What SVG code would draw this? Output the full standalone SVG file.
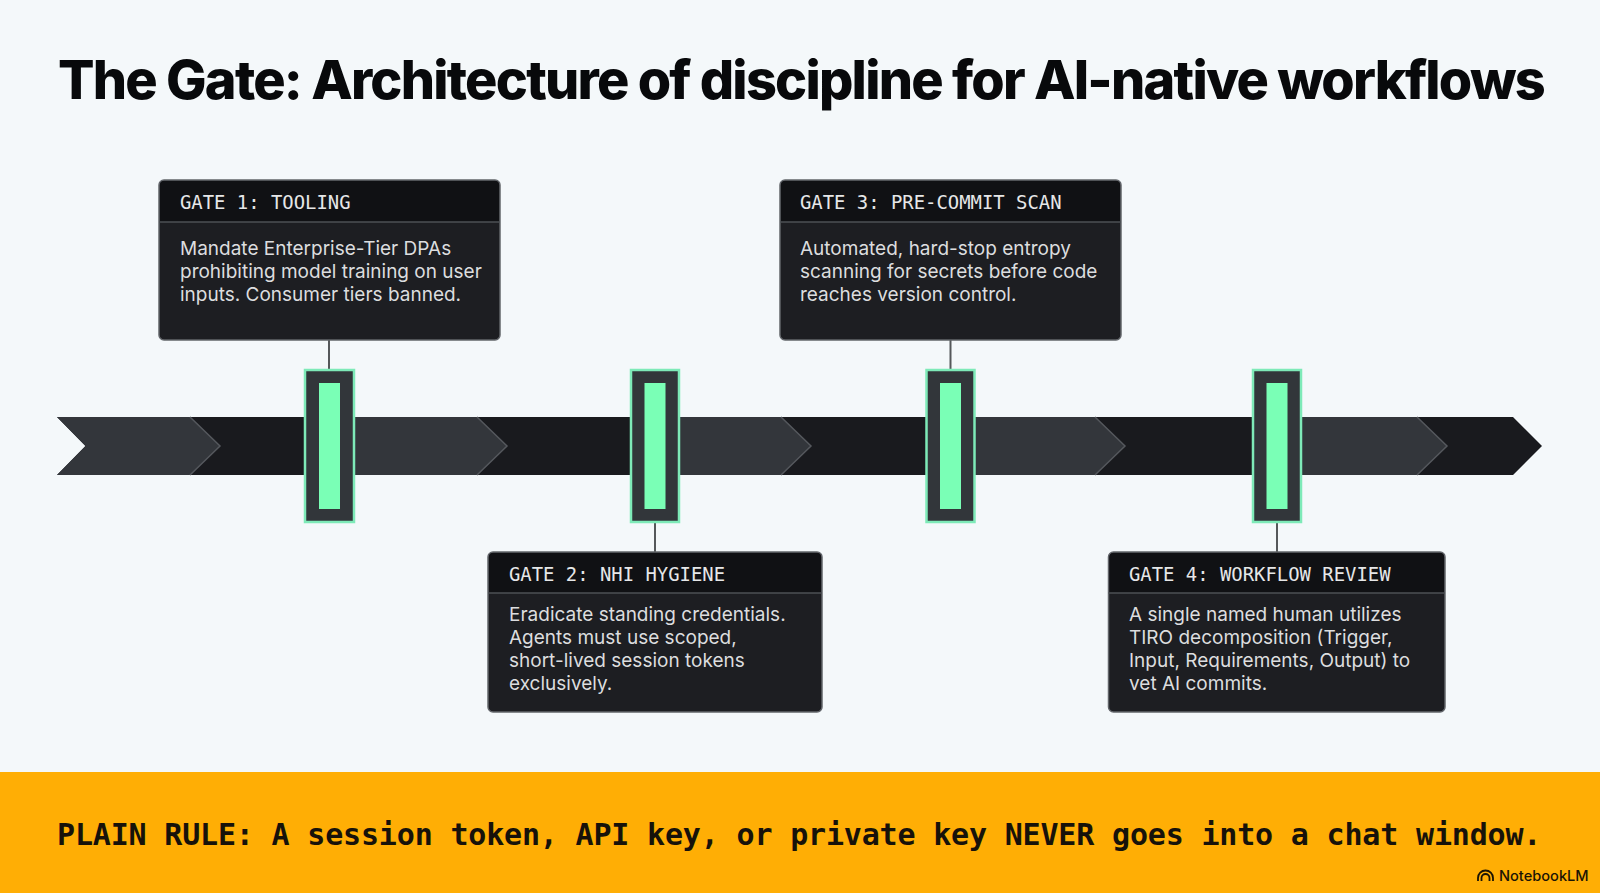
<svg xmlns="http://www.w3.org/2000/svg" width="1600" height="893" viewBox="0 0 1600 893">
<style>
.title{font:800 54px Inter,"Liberation Sans",sans-serif;fill:#08090b;letter-spacing:-1.77px}
.card{fill:#1d1e22;stroke:#62656a;stroke-width:1.5}
.hd{fill:#101114}
.div{stroke:#4d5054;stroke-width:1.5}
.h{font:500 18.9px "DejaVu Sans Mono","Liberation Mono",monospace;fill:#e6e7e8}
.b{font:400 19px Inter,"Liberation Sans",sans-serif;fill:#dcdddf}
.post{fill:#32363a;stroke:#7eeab8;stroke-width:2.5}
.core{fill:#7affb6}
.lt{fill:#33363b}
.edge{fill:none;stroke:#55585d;stroke-width:1.5}
.conn{stroke:#55585a;stroke-width:2}
.rule{font:700 30px "DejaVu Sans Mono","Liberation Mono",monospace;fill:#17120a;letter-spacing:-.18px}
.brand{font:500 14.6px Inter,"Liberation Sans",sans-serif;fill:#1a1405}
</style>
<rect width="1600" height="893" fill="#f4f8fa"/>
<text class="title" x="58" y="99">The Gate: Architecture of discipline for AI-native workflows</text>
<g id="arrow">
<path d="M57 417H1513L1542 446L1513 475H57L85.500 446Z" fill="#191a1e"/>
<path class="lt" d="M57 417H190L220 446L190 475H57L85.500 446Z"/>
<path class="lt" d="M354 417H477L507 446L477 475H354Z"/>
<path class="lt" d="M680 417H781L811 446L781 475H680Z"/>
<path class="lt" d="M975 417H1095L1125 446L1095 475H975Z"/>
<path class="lt" d="M1302 417H1417L1447 446L1417 475H1302Z"/>
<path class="edge" d="M190 417L220 446L190 475M477 417L507 446L477 475M781 417L811 446L781 475M1095 417L1125 446L1095 475M1417 417L1447 446L1417 475"/>
</g>
<g id="connectors">
<line class="conn" x1="329" y1="340" x2="329" y2="370"/>
<line class="conn" x1="655" y1="522" x2="655" y2="552"/>
<line class="conn" x1="950.500" y1="340" x2="950.500" y2="370"/>
<line class="conn" x1="1277" y1="522" x2="1277" y2="552"/>
</g>
<g id="post1"><rect class="post" x="305" y="370" width="49" height="152"/><rect class="core" x="319" y="383" width="21" height="126"/></g>
<g id="post2"><rect class="post" x="631" y="370" width="48" height="152"/><rect class="core" x="644.500" y="383" width="21" height="126"/></g>
<g id="post3"><rect class="post" x="926.500" y="370" width="48" height="152"/><rect class="core" x="940" y="383" width="21" height="126"/></g>
<g id="post4"><rect class="post" x="1253" y="370" width="48" height="152"/><rect class="core" x="1266.500" y="383" width="21" height="126"/></g>
<g id="gate1"><rect class="card" x="159" y="180" width="341" height="160" rx="5"/><path class="hd" d="M160 222V185a4 4 0 0 1 4-4H495a4 4 0 0 1 4 4V222Z"/><line class="div" x1="159" y1="222" x2="500" y2="222"/>
<text class="h" x="180" y="209">GATE 1: TOOLING</text>
<text class="b" x="180" y="254.500">Mandate Enterprise-Tier DPAs</text><text class="b" x="180" y="277.500">prohibiting model training on user</text><text class="b" x="180" y="300.500">inputs. Consumer tiers banned.</text></g>
<g id="gate2"><rect class="card" x="488" y="552" width="334" height="160" rx="5"/><path class="hd" d="M489 593V557a4 4 0 0 1 4-4H817a4 4 0 0 1 4 4V593Z"/><line class="div" x1="488" y1="593" x2="822" y2="593"/>
<text class="h" x="509" y="581">GATE 2: NHI HYGIENE</text>
<text class="b" x="509" y="620.500">Eradicate standing credentials.</text><text class="b" x="509" y="643.500">Agents must use scoped,</text><text class="b" x="509" y="666.500">short-lived session tokens</text><text class="b" x="509" y="689.500">exclusively.</text></g>
<g id="gate3"><rect class="card" x="780" y="180" width="341" height="160" rx="5"/><path class="hd" d="M781 222V185a4 4 0 0 1 4-4H1116a4 4 0 0 1 4 4V222Z"/><line class="div" x1="780" y1="222" x2="1121" y2="222"/>
<text class="h" x="800" y="209">GATE 3: PRE-COMMIT SCAN</text>
<text class="b" x="800" y="254.500">Automated, hard-stop entropy</text><text class="b" x="800" y="277.500">scanning for secrets before code</text><text class="b" x="800" y="300.500">reaches version control.</text></g>
<g id="gate4"><rect class="card" x="1108.500" y="552" width="336.500" height="160" rx="5"/><path class="hd" d="M1109.500 593V557a4 4 0 0 1 4-4H1440a4 4 0 0 1 4 4V593Z"/><line class="div" x1="1108.500" y1="593" x2="1445" y2="593"/>
<text class="h" x="1129" y="581">GATE 4: WORKFLOW REVIEW</text>
<text class="b" x="1129" y="620.500">A single named human utilizes</text><text class="b" x="1129" y="643.500">TIRO decomposition (Trigger,</text><text class="b" x="1129" y="666.500">Input, Requirements, Output) to</text><text class="b" x="1129" y="689.500">vet AI commits.</text></g>
<g id="banner"><rect x="0" y="772" width="1600" height="121" fill="#ffae05"/>
<text class="rule" x="57" y="845">PLAIN RULE: A session token, API key, or private key NEVER goes into a chat window.</text>
<path d="M1478 881v-3a7.500 7.500 0 0 1 15 0v3M1481.500 881v-3a4 4 0 0 1 8 0v3" fill="none" stroke="#1a1405" stroke-width="1.800"/>
<text class="brand" x="1499" y="881">NotebookLM</text></g>
</svg>
